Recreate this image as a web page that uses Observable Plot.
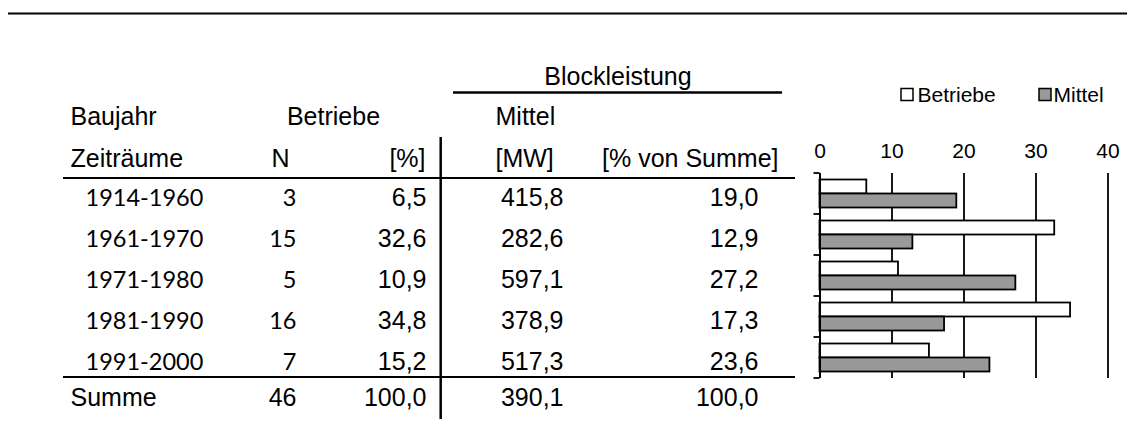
<!DOCTYPE html>
<html><head><meta charset="utf-8">
<script src="https://cdn.jsdelivr.net/npm/d3@7"></script>
<script src="https://cdn.jsdelivr.net/npm/@observablehq/plot@0.6"></script>
<style>
html,body{margin:0;padding:0;background:#fff;}
#chart svg{display:block;}
</style></head><body><div id="chart"></div>
<script>
// ---- data ----
const periods = ["1914-1960","1961-1970","1971-1980","1981-1990","1991-2000"];
const betriebeN = [3,15,5,16,7];
const betriebePct = [6.5,32.6,10.9,34.8,15.2];
const mittelMW = [415.8,282.6,597.1,378.9,517.3];
const mittelPct = [19.0,12.9,27.2,17.3,23.6];
const summeValues = ["Summe", 46, 100.0, 390.1, 100.0];
const xTicks = [0,10,20,30,40];
const seriesNames = ["Betriebe","Mittel"];
const groupHeaders = ["Blockleistung"];
const columnHeaders = ["Baujahr","Betriebe","Mittel"];
const unitHeaders = ["Zeiträume","N","[%]","[MW]","[% von Summe]"];

// ---- derived table ----
const rows = periods.map((p,i)=>({period:p, n:betriebeN[i], bPct:betriebePct[i], mw:mittelMW[i], mPct:mittelPct[i]}));
const summe = {label:summeValues[0], n:summeValues[1], bPct:summeValues[2], mw:summeValues[3], mPct:summeValues[4]};
const fmt = v => v.toFixed(1).replace(".", ",");

// ---- styling / layout ----
const ARIAL = "'Liberation Sans', Arial, sans-serif";
const CALIBRI = "Lato, 'Open Sans', sans-serif";
const FS = 25, FS_CAL = 23.5, FS_CHART = 21;
const GRAY = "#999999";

function label(data, text, dx, dy, anchor, font = ARIAL, size = FS){
  return Plot.text(data, {text, frameAnchor:"top-left", lineAnchor:"middle", dx, dy, textAnchor:anchor, fontFamily:font, fontSize:size});
}
function hdr(text, dx, dy, anchor){ return label([text], d=>d, dx, dy, anchor); }

function tableLines(index, scales) {
  const {x, y} = scales;
  const bw = y.bandwidth();
  const yTop = y(periods[0]);
  const yBottom = y(periods[periods.length-1]) + bw;
  const g = d3.create("svg:g").attr("stroke","black").attr("fill","none");
  const line = (x1,y1,x2,y2,w) => g.append("line").attr("x1",x1).attr("y1",y1).attr("x2",x2).attr("y2",y2).attr("stroke-width",w);
  line(8, 13.5, 1127, 13.5, 2);          // page rule
  line(453, 92.5, 782, 92.5, 2.5);       // under Blockleistung
  line(63, 178, 795, 178, 2);            // under headers
  line(63, yBottom - 1, 795, yBottom - 1, 2); // above Summe
  line(440.7, 137, 440.7, 419, 2.5);     // vertical separator
  for (let i = 0; i <= periods.length; i++) {
    const yy = yTop + i * bw;
    line(x(0) - 6, yy, x(0), yy, 1.8);   // category axis ticks
  }
  return g.node();
}

const bodyDy = 4;
const summeY = 397.5;

const plot = Plot.plot({
  width: 1127,
  height: 446,
  marginTop: 0, marginRight: 0, marginBottom: 0, marginLeft: 0,
  style: {fontFamily: ARIAL, background: "white", color: "black"},
  x: {domain: [0, 40], range: [819.5, 1107.5], axis: null},
  y: {type: "band", domain: periods, range: [173, 378], padding: 0, axis: null},
  marks: [
    // gridlines
    Plot.ruleX(xTicks.slice(1), {x: d=>d, y1: ()=>periods[0], y2: ()=>periods[periods.length-1], stroke:"black", strokeWidth:1.8}),
    // bars
    Plot.barX(rows, {x:"bPct", y:"period", fill:"white", stroke:"black", strokeWidth:1.8, insetTop:6.5, insetBottom:20.5}),
    Plot.barX(rows, {x:"mPct", y:"period", fill:GRAY, stroke:"black", strokeWidth:1.8, insetTop:20.5, insetBottom:6.5}),
    // category axis line
    Plot.ruleX([0], {x: d=>d, y1: ()=>periods[0], y2: ()=>periods[periods.length-1], stroke:"black", strokeWidth:2}),
    // x tick labels (top)
    Plot.text(xTicks, {x: d=>d, text: d=>String(d), frameAnchor:"top", lineAnchor:"middle", dy:151, fontFamily:ARIAL, fontSize:FS_CHART}),
    // legend
    Plot.dot([seriesNames[0]], {frameAnchor:"top-left", dx:906.5, dy:94, symbol:"square", r:6.77, fill:"white", stroke:"black", strokeWidth:1.5}),
    label([seriesNames[0]], d=>d, 917, 94.5, "start", ARIAL, FS_CHART),
    Plot.dot([seriesNames[1]], {frameAnchor:"top-left", dx:1044.5, dy:94, symbol:"square", r:6.77, fill:GRAY, stroke:"black", strokeWidth:1.5}),
    label([seriesNames[1]], d=>d, 1053, 94.5, "start", ARIAL, FS_CHART),
    // table lines
    tableLines,
    // headers
    hdr(groupHeaders[0], 617.5, 76, "middle"),
    hdr(columnHeaders[0], 70, 116, "start"),
    hdr(columnHeaders[1], 333, 116, "middle"),
    hdr(columnHeaders[2], 495, 116, "start"),
    hdr(unitHeaders[0], 70, 158.5, "start"),
    hdr(unitHeaders[1], 280, 158.5, "middle"),
    hdr(unitHeaders[2], 425, 158.5, "end"),
    hdr(unitHeaders[3], 495, 158.5, "start"),
    hdr(unitHeaders[4], 778, 158.5, "end"),
    // body rows
    Plot.text(rows, {y:"period", text:"period", frameAnchor:"left", lineAnchor:"middle", dx:85, dy:bodyDy, textAnchor:"start", fontFamily:CALIBRI, fontSize:FS_CAL}),
    Plot.text(rows, {y:"period", text:d=>String(d.n), frameAnchor:"left", lineAnchor:"middle", dx:296, dy:bodyDy, textAnchor:"end", fontFamily:CALIBRI, fontSize:FS_CAL}),
    Plot.text(rows, {y:"period", text:d=>fmt(d.bPct), frameAnchor:"left", lineAnchor:"middle", dx:426, dy:bodyDy, textAnchor:"end", fontFamily:ARIAL, fontSize:FS}),
    Plot.text(rows, {y:"period", text:d=>fmt(d.mw), frameAnchor:"left", lineAnchor:"middle", dx:563, dy:bodyDy, textAnchor:"end", fontFamily:ARIAL, fontSize:FS}),
    Plot.text(rows, {y:"period", text:d=>fmt(d.mPct), frameAnchor:"left", lineAnchor:"middle", dx:758, dy:bodyDy, textAnchor:"end", fontFamily:ARIAL, fontSize:FS}),
    // Summe row
    label([summe], "label", 70, summeY, "start"),
    label([summe], d=>String(d.n), 296, summeY, "end"),
    label([summe], d=>fmt(d.bPct), 426, summeY, "end"),
    label([summe], d=>fmt(d.mw), 563, summeY, "end"),
    label([summe], d=>fmt(d.mPct), 758, summeY, "end")
  ]
});
document.getElementById("chart").append(plot);
</script>
</body></html>
